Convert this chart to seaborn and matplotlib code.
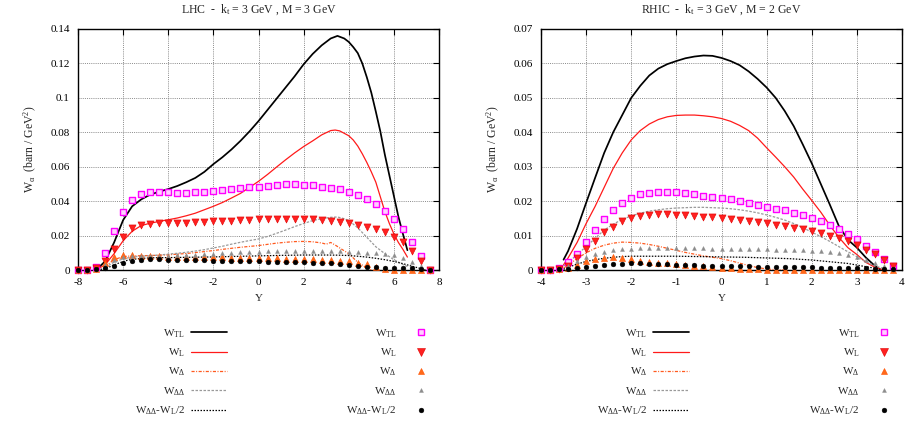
import numpy as np
import pandas as pd
import matplotlib
matplotlib.use("Agg")
import matplotlib.pyplot as plt
import seaborn as sns
from matplotlib.lines import Line2D
from matplotlib.ticker import FuncFormatter, MultipleLocator

# ---------------- LHC (left) ----------------
lhc_title = "LHC  -  k$_{t}$ = 3 GeV , M = 3 GeV"
# curves
lhc_tl_x = [-7.2, -6.8, -6.4, -6.0, -5.6, -5.2, -4.8, -4.4, -4.0, -3.6, -3.2, -2.8, -2.4, -2.0, -1.6, -1.2, -0.8,
            -0.4, 0.0, 0.4, 0.8, 1.2, 1.6, 2.0, 2.4, 2.8, 3.2, 3.5, 3.8, 4.0, 4.2, 4.4, 4.6, 4.8, 5.0, 5.2, 5.4,
            5.6, 5.8, 6.0, 6.2, 6.4, 6.6]
lhc_tl_y = [0.0, 0.005, 0.016, 0.029, 0.037, 0.041, 0.0438, 0.0455, 0.047, 0.0488, 0.051, 0.0535, 0.057, 0.0615,
            0.0655, 0.070, 0.075, 0.0805, 0.0865, 0.093, 0.0995, 0.106, 0.1125, 0.1195, 0.1255, 0.1305, 0.1345,
            0.136, 0.1345, 0.1325, 0.1295, 0.126, 0.120, 0.112, 0.103, 0.092, 0.0805, 0.067, 0.055, 0.043,
            0.031, 0.021, 0.0115]
lhc_l_x = [-7.2, -6.8, -6.4, -6.0, -5.6, -5.2, -4.8, -4.4, -4.0, -3.6, -3.2, -2.8, -2.4, -2.0, -1.6, -1.2, -0.8,
           -0.4, 0.0, 0.4, 0.8, 1.2, 1.6, 2.0, 2.4, 2.8, 3.2, 3.4, 3.6, 4.0, 4.2, 4.4, 4.6, 4.8, 5.0, 5.2, 5.4,
           5.6, 5.8, 6.0, 6.2, 6.4, 6.6]
lhc_l_y = [0.0, 0.003, 0.0095, 0.017, 0.0225, 0.0258, 0.0272, 0.0282, 0.0292, 0.0302, 0.0315, 0.033, 0.035, 0.037,
           0.0392, 0.0418, 0.0445, 0.048, 0.0515, 0.0555, 0.0598, 0.064, 0.068, 0.0717, 0.075, 0.0785, 0.081,
           0.0813, 0.0808, 0.078, 0.0755, 0.072, 0.0675, 0.0625, 0.057, 0.051, 0.0425, 0.034, 0.027, 0.021,
           0.016, 0.012, 0.0075]
lhc_d_x = [-6.8, -6.4, -6.0, -5.6, -5.2, -4.8, -4.4, -4.0, -3.6, -3.2, -2.8, -2.4, -2.0, -1.6, -1.2, -0.8, -0.4,
           0.0, 0.4, 0.8, 1.2, 1.6, 2.0, 2.4, 2.8, 3.0, 3.2, 3.4, 3.6, 4.0, 4.4, 4.8, 5.0]
lhc_d_y = [0.002, 0.006, 0.0078, 0.0082, 0.0083, 0.0084, 0.0086, 0.0088, 0.0092, 0.0096, 0.0101, 0.0107, 0.0113,
           0.012, 0.0126, 0.0132, 0.0137, 0.0142, 0.0149, 0.0156, 0.0161, 0.0165, 0.0166, 0.0164, 0.0157, 0.015,
           0.016, 0.0145, 0.0128, 0.0095, 0.0045, 0.0012, 0.0]
lhc_dd_x = [-6.8, -6.4, -6.0, -5.6, -5.2, -4.8, -4.4, -4.0, -3.6, -3.2, -2.8, -2.4, -2.0, -1.6, -1.2, -0.8, -0.4,
            0.0, 0.4, 0.8, 1.2, 1.6, 2.0, 2.4, 2.8, 3.2, 3.5, 3.8, 4.0, 4.4, 4.8, 5.2, 5.6, 6.0, 6.4, 6.6]
lhc_dd_y = [0.0015, 0.0045, 0.0065, 0.0075, 0.008, 0.0083, 0.0087, 0.0092, 0.0097, 0.0103, 0.011, 0.0118, 0.0128,
            0.0138, 0.015, 0.0161, 0.0171, 0.018, 0.0195, 0.0213, 0.0232, 0.0252, 0.027, 0.0287, 0.0298, 0.0306,
            0.0308, 0.0298, 0.0288, 0.0245, 0.019, 0.0135, 0.0095, 0.006, 0.0032, 0.002]
lhc_c_x = [-7.0, -6.6, -6.2, -5.8, -5.4, -5.0, -4.6, -4.0, -3.0, -2.0, -1.0, 0.0, 1.0, 2.0, 3.0, 3.6, 4.0, 4.4,
           4.8, 5.2, 5.6, 6.0, 6.4, 6.8, 7.2, 7.4]
lhc_c_y = [0.0003, 0.0018, 0.004, 0.0057, 0.0065, 0.0069, 0.0071, 0.0072, 0.0074, 0.0076, 0.0079, 0.0082, 0.0085,
           0.0087, 0.0087, 0.0086, 0.0084, 0.008, 0.0075, 0.0068, 0.006, 0.005, 0.0037, 0.0022, 0.0008, 0.0]
# points
lhc_pts_x = [-8.0, -7.6, -7.2, -6.8, -6.4, -6.0, -5.6, -5.2, -4.8, -4.4, -4.0, -3.6, -3.2, -2.8, -2.4, -2.0, -1.6,
             -1.2, -0.8, -0.4, 0.0, 0.4, 0.8, 1.2, 1.6, 2.0, 2.4, 2.8, 3.2, 3.6, 4.0, 4.4, 4.8, 5.2, 5.6, 6.0,
             6.4, 6.8, 7.2, 7.6]
lhc_tl_pts = [0.0, 0.0, 0.0015, 0.0099, 0.0227, 0.0335, 0.0405, 0.044, 0.0452, 0.0452, 0.0452, 0.045, 0.045,
              0.0452, 0.0456, 0.046, 0.0467, 0.0473, 0.0477, 0.0481, 0.0485, 0.049, 0.0495, 0.0497, 0.0499,
              0.0495, 0.0493, 0.0485, 0.0479, 0.047, 0.0452, 0.0435, 0.0411, 0.0382, 0.0345, 0.0297, 0.0237,
              0.0163, 0.008, 0.0]
lhc_l_pts = [0.0, 0.0, 0.001, 0.005, 0.0124, 0.0194, 0.0245, 0.0263, 0.0268, 0.0272, 0.0272, 0.0274, 0.0275,
             0.0277, 0.028, 0.0283, 0.0285, 0.0287, 0.029, 0.0293, 0.0295, 0.0297, 0.0299, 0.0299, 0.0299,
             0.0297, 0.0295, 0.029, 0.0287, 0.028, 0.0275, 0.0264, 0.025, 0.0237, 0.022, 0.0194, 0.0165, 0.0113,
             0.0054, 0.0]
lhc_d_pts = [0.0, 0.0, 0.0005, 0.004, 0.0075, 0.0089, 0.0086, 0.0083, 0.008, 0.0079, 0.0078, 0.0077, 0.0077,
             0.0076, 0.0075, 0.0074, 0.0073, 0.0072, 0.0071, 0.007, 0.0069, 0.0068, 0.0067, 0.0066, 0.0065,
             0.0064, 0.0062, 0.006, 0.0058, 0.0054, 0.005, 0.0042, 0.0032, 0.002, 0.0008, 0.0, 0.0, 0.0, 0.0, 0.0]
lhc_dd_pts = [0.0, 0.0, 0.0005, 0.003, 0.006, 0.0075, 0.008, 0.008, 0.008, 0.0082, 0.0084, 0.0086, 0.0088, 0.009,
              0.0092, 0.0095, 0.0098, 0.01, 0.0102, 0.0104, 0.0106, 0.0108, 0.011, 0.0111, 0.0112, 0.0112,
              0.0112, 0.0111, 0.011, 0.0108, 0.0106, 0.0104, 0.0101, 0.0097, 0.0092, 0.0085, 0.007, 0.0047,
              0.0022, 0.0]
lhc_c_pts = [0.0, 0.0, 0.0004, 0.001, 0.0025, 0.0041, 0.0053, 0.006, 0.0063, 0.0062, 0.006, 0.0059, 0.0058,
             0.0057, 0.0056, 0.0055, 0.0054, 0.0053, 0.0052, 0.0051, 0.005, 0.0049, 0.0048, 0.0047, 0.0046,
             0.0045, 0.0043, 0.0041, 0.0038, 0.0034, 0.0029, 0.0023, 0.0019, 0.0016, 0.0014, 0.0013, 0.0012,
             0.0011, 0.0008, 0.0]

# ---------------- RHIC (right) ----------------
rhic_title = "RHIC  -  k$_{t}$ = 3 GeV , M = 2 GeV"
rhic_tl_x = [-3.5, -3.4, -3.2, -3.0, -2.8, -2.6, -2.4, -2.2, -2.0, -1.8, -1.6, -1.4, -1.2, -1.0, -0.8, -0.6, -0.4,
             -0.2, 0.0, 0.2, 0.4, 0.6, 0.8, 1.0, 1.2, 1.4, 1.6, 1.8, 2.0, 2.2, 2.4, 2.6, 2.8, 3.0, 3.2, 3.4, 3.5]
rhic_tl_y = [0.003, 0.0055, 0.012, 0.0195, 0.0268, 0.034, 0.040, 0.045, 0.050, 0.0535, 0.0565, 0.0585, 0.0598,
             0.0607, 0.0615, 0.062, 0.0623, 0.0622, 0.0616, 0.0607, 0.0595, 0.0577, 0.0555, 0.053, 0.050, 0.0462,
             0.0418, 0.0365, 0.031, 0.025, 0.019, 0.0128, 0.0088, 0.0065, 0.0036, 0.0012, 0.0003]
rhic_l_x = [-3.5, -3.4, -3.2, -3.0, -2.8, -2.6, -2.4, -2.2, -2.0, -1.8, -1.6, -1.4, -1.2, -1.0, -0.8, -0.6, -0.4,
            -0.2, 0.0, 0.2, 0.4, 0.6, 0.8, 1.0, 1.2, 1.4, 1.6, 1.8, 2.0, 2.2, 2.4, 2.6, 2.8, 3.0, 3.2, 3.4, 3.6]
rhic_l_y = [0.0015, 0.0035, 0.008, 0.0135, 0.0185, 0.024, 0.0295, 0.034, 0.0378, 0.0405, 0.0424, 0.0437, 0.0445,
            0.0449, 0.045, 0.045, 0.0448, 0.0445, 0.044, 0.0432, 0.042, 0.0405, 0.0383, 0.0355, 0.0328, 0.030,
            0.027, 0.0235, 0.0202, 0.0168, 0.013, 0.0095, 0.0065, 0.0045, 0.0022, 0.0008, 0.0]
rhic_d_x = [-3.5, -3.4, -3.2, -3.0, -2.8, -2.6, -2.4, -2.2, -2.0, -1.8, -1.6, -1.4, -1.2, -1.0, -0.8, -0.6, -0.4,
            -0.2, 0.0, 0.2, 0.4, 0.6, 0.8, 1.0, 1.2, 1.4]
rhic_d_y = [0.0005, 0.0015, 0.0033, 0.005, 0.0063, 0.0072, 0.0078, 0.0081, 0.008, 0.0078, 0.0074, 0.0069, 0.0063,
            0.0057, 0.0051, 0.0046, 0.0041, 0.0037, 0.0033, 0.0027, 0.002, 0.0013, 0.0007, 0.0003, 0.0001, 0.0]
rhic_dd_x = [-3.5, -3.4, -3.2, -3.0, -2.8, -2.6, -2.4, -2.2, -2.0, -1.8, -1.6, -1.4, -1.2, -1.0, -0.8, -0.6, -0.4,
             -0.2, 0.0, 0.2, 0.4, 0.6, 0.8, 1.0, 1.2, 1.4, 1.6, 1.8, 2.0, 2.2, 2.4, 2.6, 2.8, 3.0, 3.2, 3.4, 3.6]
rhic_dd_y = [0.0012, 0.0021, 0.0045, 0.0068, 0.0092, 0.0116, 0.0133, 0.0147, 0.0157, 0.0165, 0.0171, 0.0175,
             0.0178, 0.018, 0.0181, 0.0182, 0.0182, 0.0181, 0.018, 0.0178, 0.0175, 0.0171, 0.0166, 0.016, 0.0153,
             0.0145, 0.0135, 0.0123, 0.011, 0.0097, 0.0083, 0.0068, 0.0053, 0.0039, 0.0024, 0.0012, 0.0004]
rhic_c_x = [-3.5, -3.4, -3.2, -3.0, -2.8, -2.6, -2.4, -2.2, -2.0, -1.5, -1.0, -0.5, 0.0, 0.5, 1.0, 1.5, 2.0, 2.4,
            2.8, 3.1, 3.4, 3.6]
rhic_c_y = [0.0002, 0.0008, 0.0017, 0.0025, 0.003, 0.0034, 0.0037, 0.0039, 0.004, 0.004, 0.004, 0.0039, 0.0038,
            0.0037, 0.0035, 0.0033, 0.0029, 0.0024, 0.0019, 0.0012, 0.0005, 0.0]
rhic_pts_x = [-4.0, -3.8, -3.6, -3.4, -3.2, -3.0, -2.8, -2.6, -2.4, -2.2, -2.0, -1.8, -1.6, -1.4, -1.2, -1.0, -0.8,
              -0.6, -0.4, -0.2, 0.0, 0.2, 0.4, 0.6, 0.8, 1.0, 1.2, 1.4, 1.6, 1.8, 2.0, 2.2, 2.4, 2.6, 2.8, 3.0,
              3.2, 3.4, 3.6, 3.8]
rhic_tl_pts = [0.0, 0.0, 0.0005, 0.0024, 0.0047, 0.008, 0.0115, 0.0147, 0.0175, 0.0196, 0.021, 0.022, 0.0225,
               0.0228, 0.0227, 0.0226, 0.0223, 0.022, 0.0216, 0.0213, 0.0209, 0.0205, 0.020, 0.0195, 0.019,
               0.0184, 0.0178, 0.0173, 0.0167, 0.0159, 0.015, 0.0141, 0.013, 0.0118, 0.0105, 0.0089, 0.0071,
               0.0051, 0.0032, 0.0013]
rhic_l_pts = [0.0, 0.0, 0.0004, 0.0013, 0.0034, 0.006, 0.0084, 0.0109, 0.0126, 0.0141, 0.015, 0.0157, 0.016,
              0.0162, 0.0162, 0.0161, 0.0159, 0.0157, 0.0155, 0.0153, 0.015, 0.0148, 0.0146, 0.0143, 0.014,
              0.0136, 0.0132, 0.0128, 0.0123, 0.0118, 0.0113, 0.0107, 0.010, 0.0092, 0.0083, 0.0073, 0.0058,
              0.0046, 0.0029, 0.0012]
rhic_d_pts = [0.0, 0.0, 0.0002, 0.0006, 0.0015, 0.0027, 0.0033, 0.0036, 0.0037, 0.0035, 0.0031, 0.0027, 0.0024,
              0.0021, 0.0019, 0.0017, 0.0015, 0.0013, 0.0011, 0.0009, 0.0007, 0.0005, 0.0004, 0.0003, 0.0002,
              0.0001, 0.0, 0.0, 0.0, 0.0, 0.0, 0.0, 0.0, 0.0, 0.0, 0.0, 0.0, 0.0, 0.0, 0.0]
rhic_dd_pts = [0.0, 0.0, 0.0002, 0.0012, 0.0026, 0.0038, 0.0047, 0.0053, 0.0057, 0.006, 0.0062, 0.0064, 0.0065,
               0.0065, 0.0065, 0.0064, 0.0064, 0.0063, 0.0063, 0.0062, 0.0062, 0.0061, 0.0061, 0.006, 0.006,
               0.006, 0.0059, 0.0059, 0.0058, 0.0057, 0.0056, 0.0055, 0.0053, 0.005, 0.0045, 0.0038, 0.003,
               0.002, 0.0011, 0.0004]
rhic_c_pts = [0.0, 0.0, 0.0002, 0.0004, 0.0005, 0.0008, 0.0011, 0.0014, 0.0016, 0.0018, 0.0019, 0.0019, 0.0018,
              0.0017, 0.0016, 0.0015, 0.0014, 0.0014, 0.0013, 0.0013, 0.0012, 0.0012, 0.0011, 0.0011, 0.001,
              0.001, 0.0009, 0.0009, 0.0008, 0.0008, 0.0008, 0.0007, 0.0007, 0.0006, 0.0006, 0.0005, 0.0005,
              0.0004, 0.0003, 0.0002]

labels = ["W$_{TL}$", "W$_{L}$", "W$_{\\Delta}$", "W$_{\\Delta\\Delta}$", "W$_{\\Delta\\Delta}$-W$_{L}$/2"]
ylabel = "W$_{\\alpha}$  (barn / GeV$^{2}$)"
xlabel = "Y"

lhc_xticks = [-8, -6, -4, -2, 0, 2, 4, 6, 8]
rhic_xticks = [-4, -3, -2, -1, 0, 1, 2, 3, 4]

# ---------------- styling ----------------
sns.set_style("white")
plt.rcParams["font.family"] = ["Liberation Serif", "DejaVu Serif"]
plt.rcParams["mathtext.fontset"] = "stix"
plt.rcParams["mathtext.default"] = "regular"

line_styles = [
    dict(color="black", linewidth=1.25, linestyle="-"),
    dict(color="#ff1a1a", linewidth=0.9, linestyle="-"),
    dict(color="#ff5a1f", linewidth=0.9, linestyle=(0, (2.5, 1.2, 0.8, 1.2))),
    dict(color="#9a9a9a", linewidth=0.9, linestyle=(0, (2.0, 1.2))),
    dict(color="black", linewidth=0.9, linestyle=(0, (1.2, 1.2))),
]
marker_styles = [
    dict(marker="s", s=18, color="#ffd0ff", edgecolor="#ff00ff", linewidth=1.0),
    dict(marker="v", s=26, color="#ff2020", edgecolor="#e00000", linewidth=0.4),
    dict(marker="^", s=19, color="#ff6a1a", edgecolor="#ff5000", linewidth=0.4),
    dict(marker="^", s=8, color="#8c8c8c", edgecolor="#8c8c8c", linewidth=0.3),
    dict(marker="o", s=12, color="black", edgecolor="black", linewidth=0.3),
]

W, H = 905, 424
fig = plt.figure(figsize=(W / 100, H / 100), dpi=100)
axL = fig.add_axes([78 / W, 1 - 270 / H, 361 / W, 241 / H])
axR = fig.add_axes([541 / W, 1 - 270 / H, 361 / W, 241 / H])

panels = [
    (axL, lhc_title,
     [(lhc_tl_x, lhc_tl_y), (lhc_l_x, lhc_l_y), (lhc_d_x, lhc_d_y), (lhc_dd_x, lhc_dd_y), (lhc_c_x, lhc_c_y)],
     lhc_pts_x, [lhc_tl_pts, lhc_l_pts, lhc_d_pts, lhc_dd_pts, lhc_c_pts],
     (-8, 8), (0, 0.14), lhc_xticks, 0.02),
    (axR, rhic_title,
     [(rhic_tl_x, rhic_tl_y), (rhic_l_x, rhic_l_y), (rhic_d_x, rhic_d_y), (rhic_dd_x, rhic_dd_y),
      (rhic_c_x, rhic_c_y)],
     rhic_pts_x, [rhic_tl_pts, rhic_l_pts, rhic_d_pts, rhic_dd_pts, rhic_c_pts],
     (-4, 4), (0, 0.07), rhic_xticks, 0.01),
]

fmt = FuncFormatter(lambda v, p: "%g" % round(v, 6))

for ax, title, curves, px, pys, xl, yl, xt, ystep in panels:
    for (cx, cy), st in zip(curves, line_styles):
        sns.lineplot(x=cx, y=cy, ax=ax, errorbar=None, sort=False, zorder=3, **st)
    for py, ms in zip(pys, marker_styles):
        sns.scatterplot(x=px, y=py, ax=ax, zorder=4, clip_on=False, legend=False, **ms)
    ax.set_xlim(*xl)
    ax.set_ylim(*yl)
    ax.set_xticks(xt)
    ax.yaxis.set_major_locator(MultipleLocator(ystep))
    ax.yaxis.set_major_formatter(fmt)
    ax.xaxis.set_major_formatter(fmt)
    ax.grid(True, color="#8a8a8a", linestyle=(0, (1, 1.2)), linewidth=0.7)
    ax.set_axisbelow(True)
    ax.tick_params(direction="in", length=4, width=0.8, top=True, right=True, labelsize=8, pad=6,
                   colors="black")
    for sp in ax.spines.values():
        sp.set_color("black")
        sp.set_linewidth(1.0)
    ax.set_title(title, fontsize=8.5, pad=12)
    ax.set_xlabel(xlabel, fontsize=8, labelpad=5)
    ax.set_ylabel(ylabel, fontsize=8.5, labelpad=8)

# legends (lines column and points column, below each panel)
line_handles = [Line2D([], [], **st) for st in line_styles]
mk_handles = []
for ms in marker_styles:
    mk_handles.append(Line2D([], [], linestyle="none", marker=ms["marker"],
                             markersize=np.sqrt(ms["s"]), markerfacecolor=ms["color"],
                             markeredgecolor=ms["edgecolor"], markeredgewidth=ms["linewidth"]))

legend_kw = dict(frameon=False, fontsize=8, markerfirst=False, borderpad=0, borderaxespad=0,
                 labelspacing=0.62, loc="upper right", bbox_transform=fig.transFigure)
for right_line, right_mk in [(227, 432), (689, 895)]:
    lg1 = fig.legend(line_handles, labels, bbox_to_anchor=(right_line / W, 1 - 327 / H),
                     handlelength=3.2, handletextpad=0.6, **legend_kw)
    lg2 = fig.legend(mk_handles, labels, bbox_to_anchor=(right_mk / W, 1 - 327 / H),
                     handlelength=2.0, handletextpad=1.2, **legend_kw)

fig.savefig("out.png", dpi=100, facecolor="white")
